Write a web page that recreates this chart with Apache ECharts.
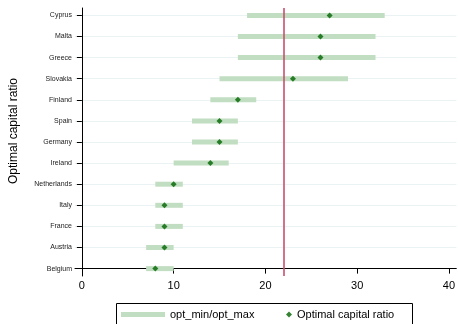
<!DOCTYPE html>
<html><head><meta charset="utf-8">
<script src="https://cdn.jsdelivr.net/npm/echarts@6/dist/echarts.min.js"></script>
<style>html,body{margin:0;padding:0;background:#fff}#c{width:458px;height:324px}</style>
</head><body><div id="c"></div>
<script>
var countries = ['Belgium','Austria','France','Italy','Netherlands','Ireland','Germany','Spain','Finland','Slovakia','Greece','Malta','Cyprus'];
var optMin = [7,7,8,8,8,10,12,12,14,15,17,17,18];
var optMax = [10,10,11,11,11,16,17,17,19,29,32,32,33];
var optRatio = [8,9,9,9,10,14,15,15,17,23,26,26,27];
var xTicks = [0,10,20,30,40];
var refLine = 22;

var rangeData = countries.map(function(c,i){return [optMin[i], optMax[i], i];});
var dotData = countries.map(function(c,i){return [optRatio[i], i];});
var yIdx = countries.map(function(c,i){return i;});

var chart = echarts.init(document.getElementById('c'), null, {renderer:'canvas'});
chart.setOption({
  animation:false,
  grid:{left:72, right:1, top:8, bottom:48},
  xAxis:{type:'value', min:-0.75, max:40.8,
    axisLine:{show:true, lineStyle:{color:'#000', width:1}},
    axisTick:{show:true, length:5, customValues:xTicks, lineStyle:{color:'#000'}},
    axisLabel:{customValues:xTicks, fontSize:11, color:'#000', margin:4, fontFamily:'Liberation Sans, Arial'},
    splitLine:{show:false}},
  yAxis:{type:'value', min:-0.35, max:12.35,
    name:'Optimal capital ratio', nameLocation:'middle', nameGap:55, nameRotate:90,
    nameTextStyle:{fontSize:12, color:'#000', fontFamily:'Liberation Sans, Arial', padding:[0,0,0,22]},
    axisLine:{show:true, lineStyle:{color:'#000', width:1}},
    axisTick:{show:true, length:5, customValues:yIdx, lineStyle:{color:'#000'}},
    axisLabel:{customValues:yIdx, fontSize:7, color:'#222', margin:3, fontFamily:'Liberation Sans, Arial',
      formatter:function(v){return countries[Math.round(v)];}},
    splitLine:{show:true, lineStyle:{color:'#eaf2f3', width:1}}},
  legend:[
    {data:[{name:'opt_min/opt_max', icon:'rect'}], left:121, top:309, itemWidth:44, itemHeight:5, itemGap:0,
      textStyle:{fontSize:11, color:'#000', fontFamily:'Liberation Sans, Arial'}, padding:0, selectedMode:false},
    {data:[{name:'Optimal capital ratio', icon:'diamond'}], left:286, top:309, itemWidth:6, itemHeight:6,
      textStyle:{fontSize:11, color:'#000', fontFamily:'Liberation Sans, Arial'}, padding:0, selectedMode:false}
  ],
  graphic:[{type:'rect', shape:{x:116.5, y:303.5, width:296, height:30}, style:{fill:'none', stroke:'#000', lineWidth:1}, silent:true}],
  series:[
    {type:'custom', name:'opt_min/opt_max', itemStyle:{color:'#c2dec2'},
      encode:{x:[0,1], y:2},
      renderItem:function(params, api){
        var a = api.coord([api.value(0), api.value(2)]);
        var b = api.coord([api.value(1), api.value(2)]);
        var h = 5;
        return {type:'rect', shape:{x:a[0], y:a[1]-h/2, width:b[0]-a[0], height:h}, style:{fill:'#c2dec2'}};
      },
      data:rangeData, z:2},
    {type:'scatter', name:'Optimal capital ratio', symbol:'diamond', symbolSize:6,
      itemStyle:{color:'#006400'}, data:dotData, z:4,
      markLine:{silent:true, symbol:'none', label:{show:false}, lineStyle:{color:'#c8506e', width:1.6, type:'solid'},
        data:[{xAxis:refLine}]}}
  ]
});
</script></body></html>
